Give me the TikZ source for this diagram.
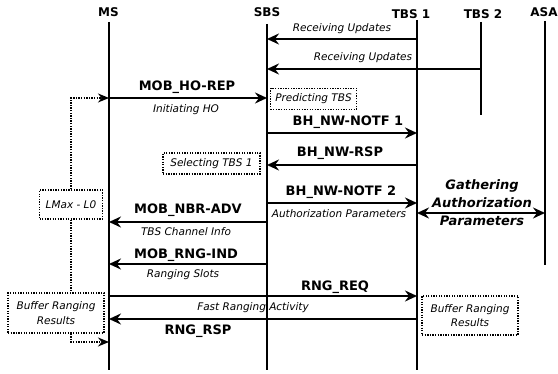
\documentclass[tikz,border=0pt]{standalone}
\usepackage{fontspec}
\setmainfont{DejaVu Sans}
\usetikzlibrary{arrows.meta}

\tikzset{
  >={Stealth[length=12pt,width=11pt,inset=4pt]},
  head/.style={font=\fontsize{12}{14}\selectfont\bfseries,inner sep=1pt},
  life/.style={line width=1.8pt},
  msg/.style={line width=1.8pt,->},
  lbl/.style={font=\fontsize{13}{15}\selectfont\bfseries,inner sep=0pt},
  note/.style={font=\fontsize{10.5}{14.5}\selectfont\itshape,inner sep=0pt,align=center},
  box/.style={note,draw,line width=1.3pt,dash pattern=on 1.3pt off 1.3pt},
  loopline/.style={line width=1.3pt,dash pattern=on 1.3pt off 1.3pt,
    -{Stealth[length=11pt,width=9pt,inset=3.5pt]}},
  gathtxt/.style={font=\fontsize{13}{18}\selectfont\bfseries\itshape,align=center,inner sep=0pt}
}

\begin{document}
\begin{tikzpicture}[x=1pt,y=-1pt]
  \useasboundingbox (0,0) rectangle (558,374);
  \fill[white] (0,0) rectangle (558,374);

  % entities and their lifelines
  \node[head] (ms) at (108.5,12) {MS};
  \node[head] (sbs) at (267,12) {SBS};
  \node[head] (tbsa) at (411,14) {TBS 1};
  \node[head] (tbsb) at (483,14) {TBS 2};
  \node[head] (asa) at (544,12) {ASA};
  \coordinate (msL) at (109,22);
  \coordinate (sbsL) at (267,24);
  \coordinate (tbsaL) at (417,20);
  \coordinate (tbsbL) at (481,22);
  \coordinate (asaL) at (545,21);

  % message rows
  \foreach \n/\y in {upA/39,upB/69,ho/98,notfA/133,rsp/165,notfB/203,gath/213,
    nbr/222,rngInd/264,req/296,resp/319,loopEnd/342,tbsbEnd/115,asaEnd/265,stop/370}
    \coordinate (\n) at (0,\y);

  \draw[life] (msL) -- (msL |- stop);
  \draw[life] (sbsL) -- (sbsL |- stop);
  \draw[life] (tbsaL) -- (tbsaL |- stop);
  \draw[life] (tbsbL) -- (tbsbL |- tbsbEnd);
  \draw[life] (asaL) -- (asaL |- asaEnd);

  % updates from the target stations
  \draw[msg] (tbsaL |- upA) -- (sbsL |- upA);
  \node[note] (upANote) at (342,29) {Receiving Updates};
  \draw[msg] (tbsbL |- upB) -- (sbsL |- upB);
  \node[note] (upBNote) at (363,58) {Receiving Updates};

  % handover request
  \draw[msg] (msL |- ho) -- (sbsL |- ho);
  \node[lbl] (hoLbl) at (187,87) {MOB\_HO-REP};
  \node[note] (hoNote) at (186,110) {Initiating HO};
  \node[box,minimum width=86pt,minimum height=21pt] (predict) at (313.5,99) {Predicting TBS};

  % backbone
  \draw[msg] (sbsL |- notfA) -- (tbsaL |- notfA);
  \node[lbl] (notfALbl) at (348,122) {BH\_NW-NOTF 1};
  \draw[msg] (tbsaL |- rsp) -- (sbsL |- rsp);
  \node[lbl] (rspLbl) at (340,153) {BH\_NW-RSP};
  \node[box,minimum width=97pt,minimum height=21pt] (select) at (211.5,163.5) {Selecting TBS 1};
  \draw[msg] (sbsL |- notfB) -- (tbsaL |- notfB);
  \node[lbl] (notfBLbl) at (341,192) {BH\_NW-NOTF 2};
  \node[note] (notfBNote) at (339,214) {Authorization Parameters};
  \draw[msg,<->] (tbsaL |- gath) -- (asaL |- gath);
  \node[gathtxt] (gather) at (482,203) {Gathering\\Authorization\\Parameters};

  % advertisement and ranging
  \draw[msg] (sbsL |- nbr) -- (msL |- nbr);
  \node[lbl] (nbrLbl) at (188,210) {MOB\_NBR-ADV};
  \node[note] (nbrNote) at (186,232) {TBS Channel Info};
  \draw[msg] (sbsL |- rngInd) -- (msL |- rngInd);
  \node[lbl] (indLbl) at (186,255) {MOB\_RNG-IND};
  \node[note] (indNote) at (183,275) {Ranging Slots};
  \draw[msg] (msL |- req) -- (tbsaL |- req);
  \node[lbl] (reqLbl) at (335,287) {RNG\_REQ};
  \draw[msg] (tbsaL |- resp) -- (msL |- resp);
  \node[note] (respNote) at (253,308) {Fast Ranging Activity};
  \node[lbl] (respLbl) at (198,331) {RNG\_RSP};
  \node[box,minimum width=96pt,minimum height=39pt] (bufR) at (470,315.5) {Buffer Ranging\\Results};

  % timer loop at the mobile station
  \node[box,minimum width=63pt,minimum height=29pt] (lmax) at (71,204.5) {LMax - L0};
  \node[box,minimum width=96pt,minimum height=40pt] (bufL) at (56,313) {Buffer Ranging\\Results};
  \draw[loopline] (lmax.north) |- (msL |- ho);
  \draw[loopline,-] (lmax.south) -- (lmax.south |- bufL.north);
  \draw[loopline] (bufL.south -| lmax.south) |- (msL |- loopEnd);
\end{tikzpicture}
\end{document}
